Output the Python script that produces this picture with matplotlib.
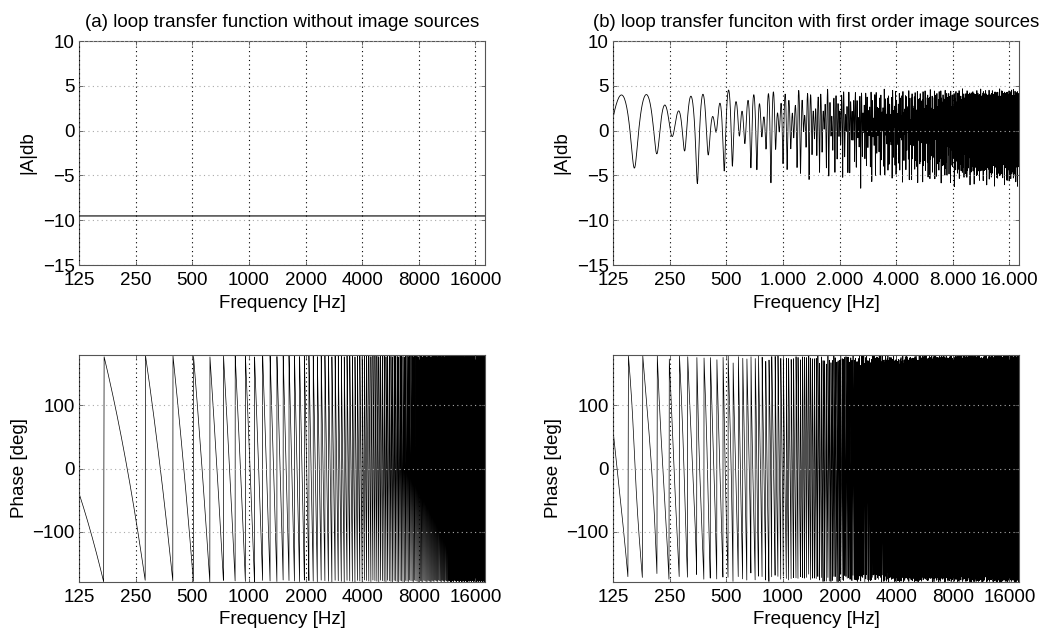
import numpy as np
import matplotlib
matplotlib.use('Agg')
import matplotlib.pyplot as plt
from matplotlib.ticker import FixedLocator, FixedFormatter, NullLocator

# ---- data ----
f_start_hz = 125.0
f_stop_hz = 18000.0
f_step_hz = 1.0

direct_gain = 0.334          # -9.5 dB flat loop gain without image sources
direct_delay_ms = 8.87       # phase wraps every ~113 Hz

image_gains = [1.095, 0.209, 0.055, -0.025]
image_delays_ms = [30.27, 14.64, 43.58, 27.56]

xticks = [125, 250, 500, 1000, 2000, 4000, 8000, 16000]
xlabels_a = ['125', '250', '500', '1000', '2000', '4000', '8000', '16000']
xlabels_b = ['125', '250', '500', '1.000', '2.000', '4.000', '8.000', '16.000']
mag_ticks = [-15, -10, -5, 0, 5, 10]
phase_ticks = [-100, 0, 100]

titles = ['(a) loop transfer function without image sources',
          '(b) loop transfer funciton with first order image sources']

# ---- transfer functions ----
f = np.arange(f_start_hz, f_stop_hz + f_step_hz, f_step_hz)
w = 2 * np.pi * f
A_a = direct_gain * np.exp(-1j * w * direct_delay_ms * 1e-3)
A_b = A_a.copy()
for g, d in zip(image_gains, image_delays_ms):
    A_b = A_b + g * np.exp(-1j * w * d * 1e-3)

mag_a = 20 * np.log10(np.abs(A_a))
mag_b = 20 * np.log10(np.abs(A_b))
ph_a = np.degrees(np.angle(A_a))
ph_b = np.degrees(np.angle(A_b))

plt.rcParams['font.family'] = ['Liberation Sans', 'DejaVu Sans']
plt.rcParams['axes.unicode_minus'] = True

fig = plt.figure(figsize=(10.44, 6.30), dpi=100)
W, H = 1044.0, 630.0
def box(x0, x1, y0, y1):
    return [x0 / W, 1 - y1 / H, (x1 - x0) / W, (y1 - y0) / H]

ax_tl = fig.add_axes(box(79, 485, 41, 265))
ax_tr = fig.add_axes(box(613, 1019, 41, 265))
ax_bl = fig.add_axes(box(79, 485, 355, 582))
ax_br = fig.add_axes(box(613, 1019, 355, 582))

def style(ax, xlabels, yticks, ylim, ylabel, ylabelpad):
    ax.set_xscale('log')
    ax.set_xlim(f_start_hz, f_stop_hz)
    ax.set_ylim(*ylim)
    ax.xaxis.set_major_locator(FixedLocator(xticks))
    ax.xaxis.set_major_formatter(FixedFormatter(xlabels))
    ax.xaxis.set_minor_locator(NullLocator())
    ax.set_yticks(yticks)
    ax.tick_params(direction='in', length=3, width=0.6, labelsize=13.5,
                   top=True, right=True, colors='#555555', labelcolor='black')
    ax.tick_params(axis='x', pad=5)
    ax.tick_params(axis='y', pad=3)
    for s in ax.spines.values():
        s.set_color('#555555')
        s.set_linewidth(0.8)
    ax.set_axisbelow(False)
    ax.xaxis.grid(True, linestyle=(0, (1, 3)), color='black', linewidth=0.8)
    ax.yaxis.grid(True, linestyle=(0, (1, 3)), color='#aaaaaa', linewidth=0.8)
    ax.set_xlabel('Frequency [Hz]', fontsize=13.5, labelpad=4)
    ax.set_ylabel(ylabel, fontsize=13.5, labelpad=ylabelpad)

ax_tl.plot(f, mag_a, color='black', lw=0.8)
ax_tr.plot(f, mag_b, color='black', lw=0.6)
ax_bl.plot(f, ph_a, color='black', lw=0.5)
ax_br.plot(f, ph_b, color='black', lw=0.5)

style(ax_tl, xlabels_a, mag_ticks, (-15, 10), '|A|db', 5)
style(ax_tr, xlabels_b, mag_ticks, (-15, 10), '|A|db', 5)
style(ax_bl, xlabels_a, phase_ticks, (-180, 180), 'Phase [deg]', 3)
style(ax_br, xlabels_a, phase_ticks, (-180, 180), 'Phase [deg]', 3)

ax_tl.set_title(titles[0], fontsize=13.5, pad=10)
ax_tr.set_title(titles[1], fontsize=13.3, pad=10)

fig.savefig('out.png', dpi=100)
